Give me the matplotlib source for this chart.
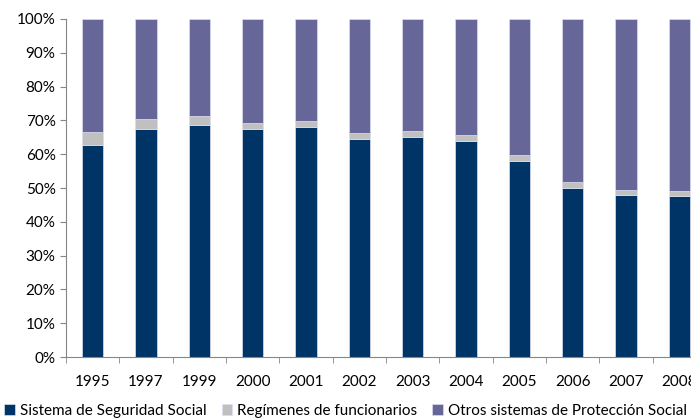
import numpy as np
import matplotlib
matplotlib.use("Agg")
import matplotlib.pyplot as plt
from matplotlib.ticker import PercentFormatter

plt.rcParams['font.family'] = ['Lato', 'DejaVu Sans']

## Data (shares of total, in %)

years = ['1995', '1997', '1999', '2000', '2001', '2002',
         '2003', '2004', '2005', '2006', '2007', '2008']
seguridad_social = [62.8, 67.4, 68.7, 67.4, 67.9, 64.4, 65.0, 63.8, 58.0, 50.1, 47.8, 47.6]
funcionarios = [3.8, 3.0, 2.7, 1.8, 1.8, 2.0, 2.0, 1.9, 1.8, 1.7, 1.6, 1.5]
otros = [100 - a - b for a, b in zip(seguridad_social, funcionarios)]

labels = ['Sistema de Seguridad Social', 'Regímenes de funcionarios',
          'Otros sistemas de Protección Social']
colors = ['#003366', '#C0C0C0', '#666699']

## Plot

fig = plt.figure(figsize=(6.91, 4.19), dpi=100)
ax = fig.add_axes([66 / 691, 62 / 419, 640 / 691, 338 / 419])

x = np.arange(len(years))
bottom = np.zeros(len(years))
for vals, lab, col in zip([seguridad_social, funcionarios, otros], labels, colors):
    ax.bar(x, vals, width=0.4, bottom=bottom, color=col, label=lab,
           edgecolor='#DDDDEE', linewidth=0.5)
    bottom += np.array(vals)

ax.set_xlim(-0.5, len(years) - 0.5)
ax.set_ylim(0, 100)
ax.set_yticks(np.arange(0, 101, 10))
ax.yaxis.set_major_formatter(PercentFormatter(decimals=0))

ax.set_xticks(x)
ax.set_xticklabels(years)
ax.set_xticks(np.arange(-0.5, len(years)), minor=True)
ax.tick_params(axis='x', which='major', length=0, pad=13, labelsize=11)
ax.tick_params(axis='x', which='minor', length=4, color='#868686')
ax.tick_params(axis='y', length=4, color='#868686', labelsize=11)

for side in ['top', 'right']:
    ax.spines[side].set_visible(False)
for side in ['left', 'bottom']:
    ax.spines[side].set_color('#868686')

fig.legend(loc='lower center', bbox_to_anchor=(0.5, -0.03), ncol=3, frameon=False,
           fontsize=11, handlelength=0.7, handleheight=0.7, handletextpad=0.3,
           columnspacing=1.0)

fig.savefig('out.png', dpi=100)
